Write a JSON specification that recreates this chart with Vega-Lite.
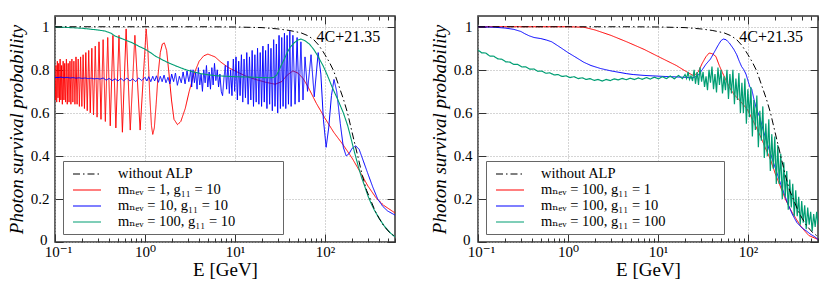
{
"$schema":"https://vega.github.io/schema/vega-lite/v6.json",
"padding":{"left":6,"top":14,"right":4,"bottom":4},
"spacing":32,
"config":{
 "font":"Times New Roman, Liberation Serif, DejaVu Serif, serif",
 "view":{"stroke":"#333","strokeWidth":1.5},
 "axis":{"labelFont":"Times New Roman, Liberation Serif, DejaVu Serif, serif","titleFont":"Times New Roman, Liberation Serif, DejaVu Serif, serif","labelFontSize":15,"titleFontSize":19,"titleFontWeight":"normal","labelColor":"#000","titleColor":"#000","domain":false,"tickColor":"#333","tickWidth":1,"gridColor":"#aaa","gridDash":[1,2],"gridWidth":1},
 "legend":{"orient":"bottom-left","offset":8,"title":null,"symbolType":"M-1,0H3","symbolSize":196,"symbolStrokeWidth":1.2,"labelFont":"Times New Roman, Liberation Serif, DejaVu Serif, serif","labelFontSize":14.5,"labelColor":"#000","labelLimit":300,"strokeColor":"#666","fillColor":"#fff","padding":5,"rowPadding":1,"symbolOffset":4,"labelOffset":30},
 "text":{"font":"Times New Roman, Liberation Serif, DejaVu Serif, serif"}
},
"resolve":{"scale":{"color":"independent","strokeDash":"independent"},"legend":{"color":"independent","strokeDash":"independent"}},
"datasets":{
"L":[
{"s":"r","E":0.1,"P":0.75},{"s":"r","E":0.1009,"P":0.66},{"s":"r","E":0.1026,"P":0.82},{"s":"r","E":0.1044,"P":0.65},{"s":"r","E":0.1062,"P":0.84},{"s":"r","E":0.108,"P":0.67},{"s":"r","E":0.11,"P":0.83},{"s":"r","E":0.112,"P":0.65},{"s":"r","E":0.114,"P":0.85},{"s":"r","E":0.1162,"P":0.66},{"s":"r","E":0.1184,"P":0.82},{"s":"r","E":0.1207,"P":0.64},{"s":"r","E":0.1232,"P":0.84},{"s":"r","E":0.1257,"P":0.66},{"s":"r","E":0.1283,"P":0.83},{"s":"r","E":0.131,"P":0.65},{"s":"r","E":0.1339,"P":0.85},{"s":"r","E":0.1368,"P":0.64},{"s":"r","E":0.14,"P":0.83},{"s":"r","E":0.1432,"P":0.65},{"s":"r","E":0.1466,"P":0.84},{"s":"r","E":0.1502,"P":0.64},{"s":"r","E":0.154,"P":0.85},{"s":"r","E":0.1579,"P":0.65},{"s":"r","E":0.1621,"P":0.84},{"s":"r","E":0.1665,"P":0.64},{"s":"r","E":0.1711,"P":0.86},{"s":"r","E":0.176,"P":0.64},{"s":"r","E":0.1812,"P":0.85},{"s":"r","E":0.1867,"P":0.63},{"s":"r","E":0.1925,"P":0.86},{"s":"r","E":0.1987,"P":0.63},{"s":"r","E":0.2053,"P":0.87},{"s":"r","E":0.2124,"P":0.62},{"s":"r","E":0.22,"P":0.88},{"s":"r","E":0.2282,"P":0.61},{"s":"r","E":0.237,"P":0.89},{"s":"r","E":0.2465,"P":0.6},{"s":"r","E":0.2567,"P":0.9},{"s":"r","E":0.2679,"P":0.59},{"s":"r","E":0.2801,"P":0.91},{"s":"r","E":0.2935,"P":0.58},{"s":"r","E":0.3082,"P":0.93},{"s":"r","E":0.3244,"P":0.57},{"s":"r","E":0.3425,"P":0.94},{"s":"r","E":0.3626,"P":0.56},{"s":"r","E":0.3854,"P":0.95},{"s":"r","E":0.4111,"P":0.54},{"s":"r","E":0.4405,"P":0.96},{"s":"r","E":0.4745,"P":0.53},{"s":"r","E":0.5141,"P":0.96},{"s":"r","E":0.561,"P":0.51},{"s":"r","E":0.6173,"P":0.99},{"s":"r","E":0.6861,"P":0.52},{"s":"r","E":0.7722,"P":0.96},{"s":"r","E":0.883,"P":0.52},{"s":"r","E":1.031,"P":0.99},{"s":"r","E":1.08,"P":0.88},{"s":"r","E":1.13,"P":0.68},{"s":"r","E":1.18,"P":0.54},{"s":"r","E":1.22,"P":0.5},{"s":"r","E":1.27,"P":0.53},{"s":"r","E":1.33,"P":0.64},{"s":"r","E":1.4,"P":0.78},{"s":"r","E":1.48,"P":0.88},{"s":"r","E":1.56,"P":0.92},{"s":"r","E":1.64,"P":0.925},{"s":"r","E":1.74,"P":0.89},{"s":"r","E":1.85,"P":0.78},{"s":"r","E":1.97,"P":0.66},{"s":"r","E":2.1,"P":0.57},{"s":"r","E":2.3,"P":0.545},{"s":"r","E":2.5,"P":0.56},{"s":"r","E":2.8,"P":0.62},{"s":"r","E":3.1,"P":0.7},{"s":"r","E":3.5,"P":0.78},{"s":"r","E":4,"P":0.84},{"s":"r","E":4.5,"P":0.865},{"s":"r","E":5,"P":0.873},{"s":"r","E":6,"P":0.86},{"s":"r","E":7,"P":0.835},{"s":"r","E":8.5,"P":0.81},{"s":"r","E":10,"P":0.795},{"s":"r","E":13,"P":0.772},{"s":"r","E":17,"P":0.755},{"s":"r","E":22,"P":0.742},{"s":"r","E":28,"P":0.733},{"s":"r","E":33,"P":0.745},{"s":"r","E":38,"P":0.775},{"s":"r","E":44,"P":0.795},{"s":"r","E":50,"P":0.785},{"s":"r","E":57,"P":0.76},{"s":"r","E":65,"P":0.72},{"s":"r","E":80,"P":0.645},{"s":"r","E":100,"P":0.575},{"s":"r","E":125,"P":0.51},{"s":"r","E":160,"P":0.45},{"s":"r","E":200,"P":0.39},{"s":"r","E":250,"P":0.32},{"s":"r","E":300,"P":0.26},{"s":"r","E":370,"P":0.205},{"s":"r","E":450,"P":0.17},{"s":"r","E":600,"P":0.135},
{"s":"b","E":0.1,"P":0.765},{"s":"b","E":0.108,"P":0.764},{"s":"b","E":0.117,"P":0.766},{"s":"b","E":0.126,"P":0.763},{"s":"b","E":0.136,"P":0.765},{"s":"b","E":0.147,"P":0.762},{"s":"b","E":0.159,"P":0.764},{"s":"b","E":0.171,"P":0.761},{"s":"b","E":0.185,"P":0.763},{"s":"b","E":0.2,"P":0.76},{"s":"b","E":0.216,"P":0.762},{"s":"b","E":0.233,"P":0.759},{"s":"b","E":0.252,"P":0.761},{"s":"b","E":0.272,"P":0.758},{"s":"b","E":0.294,"P":0.76},{"s":"b","E":0.317,"P":0.757},{"s":"b","E":0.343,"P":0.762},{"s":"b","E":0.37,"P":0.752},{"s":"b","E":0.4,"P":0.76},{"s":"b","E":0.432,"P":0.75},{"s":"b","E":0.466,"P":0.758},{"s":"b","E":0.5,"P":0.748},{"s":"b","E":0.54,"P":0.76},{"s":"b","E":0.58,"P":0.749},{"s":"b","E":0.63,"P":0.762},{"s":"b","E":0.68,"P":0.748},{"s":"b","E":0.73,"P":0.758},{"s":"b","E":0.79,"P":0.745},{"s":"b","E":0.85,"P":0.762},{"s":"b","E":0.92,"P":0.75},{"s":"b","E":1,"P":0.765},{"s":"b","E":1.05,"P":0.748},{"s":"b","E":1.1,"P":0.768},{"s":"b","E":1.16,"P":0.745},{"s":"b","E":1.22,"P":0.77},{"s":"b","E":1.28,"P":0.748},{"s":"b","E":1.34,"P":0.772},{"s":"b","E":1.41,"P":0.742},{"s":"b","E":1.48,"P":0.77},{"s":"b","E":1.55,"P":0.745},{"s":"b","E":1.63,"P":0.775},{"s":"b","E":1.71,"P":0.74},{"s":"b","E":1.8,"P":0.765},{"s":"b","E":1.89,"P":0.735},{"s":"b","E":1.98,"P":0.78},{"s":"b","E":2.08,"P":0.745},{"s":"b","E":2.18,"P":0.785},{"s":"b","E":2.29,"P":0.728},{"s":"b","E":2.41,"P":0.77},{"s":"b","E":2.53,"P":0.74},{"s":"b","E":2.65,"P":0.79},{"s":"b","E":2.79,"P":0.735},{"s":"b","E":2.93,"P":0.795},{"s":"b","E":3.07,"P":0.745},{"s":"b","E":3.23,"P":0.8},
{"s":"b","E":3.3,"P":0.72},{"s":"b","E":3.42,"P":0.8},{"s":"b","E":3.54,"P":0.74},{"s":"b","E":3.66,"P":0.79},{"s":"b","E":3.79,"P":0.71},{"s":"b","E":3.92,"P":0.81},{"s":"b","E":4.06,"P":0.73},{"s":"b","E":4.2,"P":0.78},{"s":"b","E":4.35,"P":0.7},{"s":"b","E":4.5,"P":0.8},{"s":"b","E":4.66,"P":0.74},{"s":"b","E":4.82,"P":0.82},{"s":"b","E":4.99,"P":0.72},{"s":"b","E":5.16,"P":0.79},{"s":"b","E":5.34,"P":0.71},{"s":"b","E":5.53,"P":0.81},{"s":"b","E":5.72,"P":0.73},{"s":"b","E":5.92,"P":0.83},{"s":"b","E":6.13,"P":0.75},{"s":"b","E":6.35,"P":0.8},{"s":"b","E":6.57,"P":0.72},{"s":"b","E":6.8,"P":0.78},{"s":"b","E":7.04,"P":0.7},{"s":"b","E":7.28,"P":0.68},{"s":"b","E":7.54,"P":0.76},{"s":"b","E":7.8,"P":0.82},{"s":"b","E":8.07,"P":0.71},{"s":"b","E":8.36,"P":0.84},{"s":"b","E":8.65,"P":0.69},{"s":"b","E":8.95,"P":0.8},{"s":"b","E":9.26,"P":0.68},{"s":"b","E":9.59,"P":0.85},{"s":"b","E":9.92,"P":0.7},{"s":"b","E":10.27,"P":0.86},{"s":"b","E":10.63,"P":0.66},{"s":"b","E":11,"P":0.84},{"s":"b","E":11.39,"P":0.68},{"s":"b","E":11.79,"P":0.87},{"s":"b","E":12.2,"P":0.65},{"s":"b","E":12.62,"P":0.85},{"s":"b","E":13.07,"P":0.67},{"s":"b","E":13.52,"P":0.88},{"s":"b","E":14,"P":0.64},{"s":"b","E":14.49,"P":0.86},{"s":"b","E":15,"P":0.66},{"s":"b","E":15.52,"P":0.89},{"s":"b","E":16.06,"P":0.63},{"s":"b","E":16.63,"P":0.87},{"s":"b","E":17.21,"P":0.65},{"s":"b","E":17.81,"P":0.9},{"s":"b","E":18.43,"P":0.64},{"s":"b","E":19.08,"P":0.88},{"s":"b","E":19.75,"P":0.63},{"s":"b","E":20.44,"P":0.91},{"s":"b","E":21.15,"P":0.65},{"s":"b","E":21.89,"P":0.89},{"s":"b","E":22.66,"P":0.62},{"s":"b","E":23.45,"P":0.92},{"s":"b","E":24.27,"P":0.64},{"s":"b","E":25.12,"P":0.9},{"s":"b","E":26,"P":0.61},{"s":"b","E":26.91,"P":0.94},{"s":"b","E":27.85,"P":0.63},{"s":"b","E":28.83,"P":0.92},{"s":"b","E":29.84,"P":0.6},{"s":"b","E":30.88,"P":0.96},{"s":"b","E":31.96,"P":0.62},{"s":"b","E":33.08,"P":0.95},{"s":"b","E":34.24,"P":0.63},{"s":"b","E":35.44,"P":0.97},{"s":"b","E":36.68,"P":0.62},{"s":"b","E":37.96,"P":0.96},{"s":"b","E":39.29,"P":0.64},{"s":"b","E":40.67,"P":0.98},{"s":"b","E":42.09,"P":0.63},{"s":"b","E":44,"P":0.96},{"s":"b","E":46.5,"P":0.64},{"s":"b","E":49,"P":0.95},{"s":"b","E":51.5,"P":0.65},{"s":"b","E":54,"P":0.93},{"s":"b","E":57,"P":0.66},{"s":"b","E":60,"P":0.86},{"s":"b","E":64,"P":0.7},{"s":"b","E":70,"P":0.87},{"s":"b","E":76,"P":0.675},{"s":"b","E":84,"P":0.88},{"s":"b","E":90,"P":0.78},{"s":"b","E":96,"P":0.57},{"s":"b","E":103,"P":0.44},{"s":"b","E":110,"P":0.53},{"s":"b","E":118,"P":0.68},{"s":"b","E":126,"P":0.755},{"s":"b","E":135,"P":0.7},{"s":"b","E":148,"P":0.55},{"s":"b","E":160,"P":0.44},{"s":"b","E":172,"P":0.4},{"s":"b","E":185,"P":0.41},{"s":"b","E":200,"P":0.435},{"s":"b","E":220,"P":0.447},{"s":"b","E":240,"P":0.43},{"s":"b","E":265,"P":0.38},{"s":"b","E":297,"P":0.322},{"s":"b","E":340,"P":0.255},{"s":"b","E":385,"P":0.2},{"s":"b","E":440,"P":0.165},{"s":"b","E":497,"P":0.144},{"s":"b","E":600,"P":0.125},
{"s":"g","E":0.1,"P":1.0},{"s":"g","E":0.2,"P":0.993},{"s":"g","E":0.3,"P":0.985},{"s":"g","E":0.36,"P":0.98},{"s":"g","E":0.42,"P":0.97},{"s":"g","E":0.46,"P":0.958},{"s":"g","E":0.55,"P":0.945},{"s":"g","E":0.71,"P":0.927},{"s":"g","E":0.85,"P":0.91},{"s":"g","E":1,"P":0.896},{"s":"g","E":1.17,"P":0.878},{"s":"g","E":1.29,"P":0.865},{"s":"g","E":1.5,"P":0.85},{"s":"g","E":1.79,"P":0.834},{"s":"g","E":2.2,"P":0.818},{"s":"g","E":2.73,"P":0.803},{"s":"g","E":3.3,"P":0.792},{"s":"g","E":4.2,"P":0.782},{"s":"g","E":5.2,"P":0.776},{"s":"g","E":6.4,"P":0.772},{"s":"g","E":8,"P":0.77},{"s":"g","E":10,"P":0.768},{"s":"g","E":15,"P":0.766},{"s":"g","E":20,"P":0.764},{"s":"g","E":25,"P":0.763},{"s":"g","E":27,"P":0.765},{"s":"g","E":29,"P":0.775},{"s":"g","E":31,"P":0.8},{"s":"g","E":33,"P":0.825},{"s":"g","E":35.4,"P":0.85},{"s":"g","E":38,"P":0.88},{"s":"g","E":41,"P":0.905},{"s":"g","E":46,"P":0.927},{"s":"g","E":50,"P":0.938},{"s":"g","E":54,"P":0.943},{"s":"g","E":60,"P":0.935},{"s":"g","E":67,"P":0.92},{"s":"g","E":75,"P":0.895},{"s":"g","E":83,"P":0.865},{"s":"g","E":95,"P":0.82},{"s":"g","E":107,"P":0.772},{"s":"g","E":120,"P":0.72},{"s":"g","E":138,"P":0.664},{"s":"g","E":160,"P":0.6},{"s":"g","E":179,"P":0.54},{"s":"g","E":195,"P":0.48},{"s":"g","E":212,"P":0.42},{"s":"g","E":235,"P":0.35},{"s":"g","E":255,"P":0.3},{"s":"g","E":276,"P":0.26},{"s":"g","E":300,"P":0.215},{"s":"g","E":325,"P":0.18},{"s":"g","E":350,"P":0.152},{"s":"g","E":375,"P":0.13},{"s":"g","E":400,"P":0.11},{"s":"g","E":430,"P":0.09},{"s":"g","E":457,"P":0.074},{"s":"g","E":500,"P":0.055},{"s":"g","E":540,"P":0.04},{"s":"g","E":584,"P":0.028},{"s":"g","E":600,"P":0.025},
{"s":"k","E":0.1,"P":1},{"s":"k","E":5,"P":1},{"s":"k","E":10,"P":0.999},{"s":"k","E":20,"P":0.996},{"s":"k","E":30,"P":0.99},{"s":"k","E":40,"P":0.983},{"s":"k","E":54,"P":0.972},{"s":"k","E":65,"P":0.958},{"s":"k","E":75,"P":0.94},{"s":"k","E":85,"P":0.915},{"s":"k","E":95,"P":0.885},{"s":"k","E":100,"P":0.87},{"s":"k","E":112,"P":0.835},{"s":"k","E":125,"P":0.795},{"s":"k","E":140,"P":0.735},{"s":"k","E":160,"P":0.665},{"s":"k","E":178,"P":0.6},{"s":"k","E":200,"P":0.51},{"s":"k","E":228,"P":0.41},{"s":"k","E":260,"P":0.31},{"s":"k","E":290,"P":0.24},{"s":"k","E":322,"P":0.195},{"s":"k","E":360,"P":0.145},{"s":"k","E":400,"P":0.11},{"s":"k","E":450,"P":0.075},{"s":"k","E":520,"P":0.045},{"s":"k","E":600,"P":0.025}
],
"R":[
{"s":"r","E":0.1,"P":1},{"s":"r","E":1,"P":1},{"s":"r","E":1.5,"P":0.998},{"s":"r","E":2,"P":0.985},{"s":"r","E":3,"P":0.96},{"s":"r","E":4.5,"P":0.93},{"s":"r","E":7,"P":0.895},{"s":"r","E":10.6,"P":0.857},{"s":"r","E":16,"P":0.82},{"s":"r","E":20,"P":0.795},{"s":"r","E":25,"P":0.772},{"s":"r","E":28,"P":0.79},{"s":"r","E":31,"P":0.83},{"s":"r","E":34,"P":0.86},{"s":"r","E":37,"P":0.878},{"s":"r","E":40,"P":0.875},{"s":"r","E":44,"P":0.862},{"s":"r","E":48,"P":0.82},{"s":"r","E":52,"P":0.787},{"s":"r","E":58,"P":0.745},{"s":"r","E":64,"P":0.71},{"s":"r","E":70,"P":0.685},{"s":"r","E":80,"P":0.66},{"s":"r","E":98,"P":0.617},{"s":"r","E":115,"P":0.56},{"s":"r","E":137,"P":0.493},{"s":"r","E":155,"P":0.44},{"s":"r","E":177,"P":0.385},{"s":"r","E":200,"P":0.32},{"s":"r","E":228,"P":0.26},{"s":"r","E":260,"P":0.2},{"s":"r","E":295,"P":0.152},{"s":"r","E":340,"P":0.11},{"s":"r","E":385,"P":0.074},{"s":"r","E":430,"P":0.05},{"s":"r","E":475,"P":0.03},{"s":"r","E":600,"P":0.012},
{"s":"b","E":0.1,"P":1},{"s":"b","E":0.15,"P":0.998},{"s":"b","E":0.2,"P":0.994},{"s":"b","E":0.25,"P":0.988},{"s":"b","E":0.3,"P":0.978},{"s":"b","E":0.33,"P":0.968},{"s":"b","E":0.37,"P":0.958},{"s":"b","E":0.42,"P":0.95},{"s":"b","E":0.5,"P":0.945},{"s":"b","E":0.58,"P":0.938},{"s":"b","E":0.66,"P":0.93},{"s":"b","E":0.75,"P":0.915},{"s":"b","E":0.85,"P":0.9},{"s":"b","E":1,"P":0.88},{"s":"b","E":1.2,"P":0.86},{"s":"b","E":1.5,"P":0.835},{"s":"b","E":1.8,"P":0.82},{"s":"b","E":2.3,"P":0.806},{"s":"b","E":3,"P":0.795},{"s":"b","E":3.5,"P":0.79},{"s":"b","E":4.5,"P":0.782},{"s":"b","E":5.3,"P":0.778},{"s":"b","E":7,"P":0.774},{"s":"b","E":8.6,"P":0.772},{"s":"b","E":12,"P":0.769},{"s":"b","E":16,"P":0.767},{"s":"b","E":20,"P":0.765},{"s":"b","E":23,"P":0.763},{"s":"b","E":25,"P":0.764},{"s":"b","E":28,"P":0.775},{"s":"b","E":31,"P":0.8},{"s":"b","E":34,"P":0.825},{"s":"b","E":38.3,"P":0.85},{"s":"b","E":42,"P":0.88},{"s":"b","E":46,"P":0.91},{"s":"b","E":50,"P":0.935},{"s":"b","E":53.2,"P":0.943},{"s":"b","E":57,"P":0.94},{"s":"b","E":62,"P":0.925},{"s":"b","E":69.4,"P":0.896},{"s":"b","E":75,"P":0.87},{"s":"b","E":80,"P":0.84},{"s":"b","E":85,"P":0.815},{"s":"b","E":90,"P":0.8},{"s":"b","E":95,"P":0.78},{"s":"b","E":100,"P":0.75},{"s":"b","E":105,"P":0.72},{"s":"b","E":110,"P":0.71},{"s":"b","E":117,"P":0.66},{"s":"b","E":124,"P":0.62},{"s":"b","E":135,"P":0.58},{"s":"b","E":150,"P":0.51},{"s":"b","E":163,"P":0.46},{"s":"b","E":185,"P":0.39},{"s":"b","E":210,"P":0.32},{"s":"b","E":240,"P":0.25},{"s":"b","E":276,"P":0.18},{"s":"b","E":310,"P":0.13},{"s":"b","E":350,"P":0.09},{"s":"b","E":400,"P":0.065},{"s":"b","E":450,"P":0.05},{"s":"b","E":500,"P":0.035},{"s":"b","E":550,"P":0.025},{"s":"b","E":600,"P":0.012},
{"s":"g","E":0.1,"P":0.892},{"s":"g","E":0.11,"P":0.879},{"s":"g","E":0.122,"P":0.878},{"s":"g","E":0.135,"P":0.864},{"s":"g","E":0.15,"P":0.863},{"s":"g","E":0.166,"P":0.851},{"s":"g","E":0.184,"P":0.849},{"s":"g","E":0.204,"P":0.837},{"s":"g","E":0.226,"P":0.836},{"s":"g","E":0.25,"P":0.825},{"s":"g","E":0.277,"P":0.825},{"s":"g","E":0.307,"P":0.813},{"s":"g","E":0.34,"P":0.814},{"s":"g","E":0.377,"P":0.803},{"s":"g","E":0.418,"P":0.804},{"s":"g","E":0.463,"P":0.793},{"s":"g","E":0.513,"P":0.794},{"s":"g","E":0.569,"P":0.784},{"s":"g","E":0.63,"P":0.786},{"s":"g","E":0.7,"P":0.776},{"s":"g","E":0.775,"P":0.778},{"s":"g","E":0.86,"P":0.769},{"s":"g","E":0.95,"P":0.772},{"s":"g","E":1.05,"P":0.764},{"s":"g","E":1.17,"P":0.768},{"s":"g","E":1.3,"P":0.759},{"s":"g","E":1.44,"P":0.763},{"s":"g","E":1.59,"P":0.755},{"s":"g","E":1.76,"P":0.759},{"s":"g","E":1.95,"P":0.751},{"s":"g","E":2.16,"P":0.755},{"s":"g","E":2.4,"P":0.748},{"s":"g","E":2.66,"P":0.755},{"s":"g","E":2.95,"P":0.75},{"s":"g","E":3.27,"P":0.758},{"s":"g","E":3.62,"P":0.753},{"s":"g","E":4,"P":0.76},{"s":"g","E":4.45,"P":0.754},{"s":"g","E":4.93,"P":0.761},{"s":"g","E":5.46,"P":0.755},{"s":"g","E":6.05,"P":0.762},{"s":"g","E":6.7,"P":0.756},{"s":"g","E":7.43,"P":0.764},{"s":"g","E":8.23,"P":0.757},{"s":"g","E":9.12,"P":0.766},{"s":"g","E":10.1,"P":0.758},{"s":"g","E":11.2,"P":0.768},{"s":"g","E":12.4,"P":0.759},{"s":"g","E":13.7,"P":0.771},{"s":"g","E":15.2,"P":0.758},{"s":"g","E":16.9,"P":0.774},{"s":"g","E":18.7,"P":0.759},
{"s":"g","E":20,"P":0.778},{"s":"g","E":20.8,"P":0.76},{"s":"g","E":21.6,"P":0.79},{"s":"g","E":22.4,"P":0.755},{"s":"g","E":23.3,"P":0.772},{"s":"g","E":24.2,"P":0.748},{"s":"g","E":25.2,"P":0.8},{"s":"g","E":26.1,"P":0.735},{"s":"g","E":27.2,"P":0.79},{"s":"g","E":28.2,"P":0.73},{"s":"g","E":29.3,"P":0.812},{"s":"g","E":30.5,"P":0.745},{"s":"g","E":31.7,"P":0.79},{"s":"g","E":32.9,"P":0.72},{"s":"g","E":34.2,"P":0.77},{"s":"g","E":35.5,"P":0.705},{"s":"g","E":36.9,"P":0.8},{"s":"g","E":38.3,"P":0.74},{"s":"g","E":39.8,"P":0.815},{"s":"g","E":41.4,"P":0.71},{"s":"g","E":43,"P":0.78},{"s":"g","E":44.7,"P":0.695},{"s":"g","E":46.4,"P":0.81},{"s":"g","E":48.2,"P":0.73},{"s":"g","E":50.1,"P":0.8},{"s":"g","E":52.1,"P":0.69},{"s":"g","E":54.1,"P":0.77},{"s":"g","E":56.2,"P":0.705},{"s":"g","E":58.4,"P":0.8},{"s":"g","E":60.7,"P":0.665},{"s":"g","E":63,"P":0.78},{"s":"g","E":65.5,"P":0.69},{"s":"g","E":68,"P":0.8},{"s":"g","E":70.7,"P":0.64},{"s":"g","E":73.4,"P":0.76},{"s":"g","E":76.3,"P":0.66},{"s":"g","E":79.3,"P":0.785},{"s":"g","E":82.4,"P":0.6},{"s":"g","E":85.6,"P":0.74},{"s":"g","E":88.9,"P":0.6},{"s":"g","E":92.4,"P":0.76},{"s":"g","E":96,"P":0.55},{"s":"g","E":99.7,"P":0.71},{"s":"g","E":103.6,"P":0.58},{"s":"g","E":107.7,"P":0.72},{"s":"g","E":111.9,"P":0.49},{"s":"g","E":116.2,"P":0.66},{"s":"g","E":120.8,"P":0.52},{"s":"g","E":125.5,"P":0.68},{"s":"g","E":130.4,"P":0.44},{"s":"g","E":135.5,"P":0.61},{"s":"g","E":140.7,"P":0.47},{"s":"g","E":146.2,"P":0.63},{"s":"g","E":151.9,"P":0.39},{"s":"g","E":157.9,"P":0.55},{"s":"g","E":164,"P":0.4},{"s":"g","E":170.4,"P":0.57},{"s":"g","E":177.1,"P":0.33},{"s":"g","E":184,"P":0.5},{"s":"g","E":191.2,"P":0.34},{"s":"g","E":198.6,"P":0.49},{"s":"g","E":206.4,"P":0.27},{"s":"g","E":214.4,"P":0.45},{"s":"g","E":222.8,"P":0.27},{"s":"g","E":231.5,"P":0.41},{"s":"g","E":240.5,"P":0.2},{"s":"g","E":249.9,"P":0.37},{"s":"g","E":259.6,"P":0.21},{"s":"g","E":269.8,"P":0.33},{"s":"g","E":280.3,"P":0.15},{"s":"g","E":291.2,"P":0.29},{"s":"g","E":302.6,"P":0.16},{"s":"g","E":314.4,"P":0.27},{"s":"g","E":326.7,"P":0.12},{"s":"g","E":339.4,"P":0.24},{"s":"g","E":352.6,"P":0.12},{"s":"g","E":366.4,"P":0.21},{"s":"g","E":380.7,"P":0.08},{"s":"g","E":395.5,"P":0.19},{"s":"g","E":411,"P":0.09},{"s":"g","E":427,"P":0.17},{"s":"g","E":443.6,"P":0.06},{"s":"g","E":460.9,"P":0.16},{"s":"g","E":478.9,"P":0.08},{"s":"g","E":497.6,"P":0.14},{"s":"g","E":517,"P":0.05},{"s":"g","E":537.2,"P":0.13},{"s":"g","E":558.1,"P":0.07},{"s":"g","E":579.9,"P":0.14},{"s":"g","E":600,"P":0.08},
{"s":"k","E":0.1,"P":1},{"s":"k","E":5,"P":1},{"s":"k","E":10,"P":0.999},{"s":"k","E":20,"P":0.996},{"s":"k","E":30,"P":0.99},{"s":"k","E":40,"P":0.983},{"s":"k","E":54,"P":0.972},{"s":"k","E":65,"P":0.958},{"s":"k","E":75,"P":0.94},{"s":"k","E":85,"P":0.915},{"s":"k","E":95,"P":0.885},{"s":"k","E":100,"P":0.87},{"s":"k","E":112,"P":0.835},{"s":"k","E":125,"P":0.795},{"s":"k","E":140,"P":0.735},{"s":"k","E":160,"P":0.665},{"s":"k","E":178,"P":0.6},{"s":"k","E":200,"P":0.51},{"s":"k","E":228,"P":0.41},{"s":"k","E":260,"P":0.31},{"s":"k","E":290,"P":0.24},{"s":"k","E":322,"P":0.195},{"s":"k","E":360,"P":0.145},{"s":"k","E":400,"P":0.11},{"s":"k","E":450,"P":0.075},{"s":"k","E":520,"P":0.045},{"s":"k","E":600,"P":0.025}
]},
"hconcat":[
{"width":340,"height":226,
 "resolve":{"axis":{"x":"independent","y":"independent"}},
 "layer":[
  {"data":{"name":"L"},
   "encoding":{
    "x":{"field":"E","type":"quantitative","title":"E [GeV]","scale":{"type":"log","domain":[0.1,600],"nice":false},
     "axis":{"orient":"bottom","values":[0.1,0.2,0.3,0.4,0.5,0.6,0.7,0.8,0.9,1,2,3,4,5,6,7,8,9,10,20,30,40,50,60,70,80,90,100,200,300,400,500,600],"labelExpr":"datum.value==0.1?'10⁻¹':datum.value==1?'10⁰':datum.value==10?'10¹':datum.value==100?'10²':''","labelOverlap":false,"labelFlush":false,"labelOffset":{"condition":{"test":"datum.value==0.1","value":3},"value":0},"grid":true,"gridOpacity":{"condition":{"test":"datum.value==0.1||datum.value==1||datum.value==10||datum.value==100","value":1},"value":0},"tickSize":{"condition":{"test":"datum.value==0.1||datum.value==1||datum.value==10||datum.value==100","value":-8},"value":-4},"labelPadding":10,"titlePadding":-3}},
    "y":{"field":"P","type":"quantitative","title":"Photon survival probability","scale":{"domain":[0,1.05],"nice":false,"zero":false},
     "axis":{"orient":"left","values":[0,0.2,0.4,0.6,0.8,1],"format":"~g","labelFlush":false,"grid":true,"tickSize":-8,"labelPadding":{"condition":{"test":"datum.value==0","value":16},"value":14},"titlePadding":4,"titleFontStyle":"italic","labelOffset":{"condition":{"test":"datum.value==0","value":-3},"value":0}}},
    "color":{"field":"s","type":"nominal","scale":{"domain":["k","r","b","g"],"range":["#000000","#ff0000","#0000ff","#009e73"]},
     "legend":{"labelExpr":"datum.value=='k'?'without ALP':datum.value=='r'?'mₙₑᵥ = 1, g₁₁ = 10':datum.value=='b'?'mₙₑᵥ = 10, g₁₁ = 10':'mₙₑᵥ = 100, g₁₁ = 10\u2800\u2800\u2800\u2800'"}},
    "strokeDash":{"field":"s","type":"nominal","scale":{"domain":["k","r","b","g"],"range":[[7,3,1.5,3],[1,0],[1,0],[1,0]]},
     "legend":{"labelExpr":"datum.value=='k'?'without ALP':datum.value=='r'?'mₙₑᵥ = 1, g₁₁ = 10':datum.value=='b'?'mₙₑᵥ = 10, g₁₁ = 10':'mₙₑᵥ = 100, g₁₁ = 10\u2800\u2800\u2800\u2800'"}}
   },
   "layer":[
    {"transform":[{"filter":"datum.s==='r'"}],"mark":{"type":"line","strokeWidth":1,"clip":true}},
    {"transform":[{"filter":"datum.s==='b'"}],"mark":{"type":"line","strokeWidth":1,"clip":true}},
    {"transform":[{"filter":"datum.s==='g'"}],"mark":{"type":"line","strokeWidth":1.1,"clip":true}},
    {"transform":[{"filter":"datum.s==='k'"}],"mark":{"type":"line","strokeWidth":1,"clip":true}}
   ]
  },
  {"data":{"values":[{}]},
   "mark":{"type":"text","fontSize":16,"font":"Times New Roman, Liberation Serif, DejaVu Serif, serif","color":"#000"},
   "encoding":{
    "x":{"datum":182,"type":"quantitative","axis":{"orient":"top","values":[0.1,0.2,0.3,0.4,0.5,0.6,0.7,0.8,0.9,1,2,3,4,5,6,7,8,9,10,20,30,40,50,60,70,80,90,100,200,300,400,500,600],"labels":false,"grid":false,"title":null,"tickSize":{"condition":{"test":"datum.value==0.1||datum.value==1||datum.value==10||datum.value==100","value":-8},"value":-4}}},
    "y":{"datum":0.953,"type":"quantitative","axis":{"orient":"right","values":[0,0.2,0.4,0.6,0.8,1],"labels":false,"grid":false,"title":null,"tickSize":-8}},
    "text":{"value":"4C+21.35"}
   }
  }
 ]
},
{"width":340,"height":226,
 "resolve":{"axis":{"x":"independent","y":"independent"}},
 "layer":[
  {"data":{"name":"R"},
   "encoding":{
    "x":{"field":"E","type":"quantitative","title":"E [GeV]","scale":{"type":"log","domain":[0.1,600],"nice":false},
     "axis":{"orient":"bottom","values":[0.1,0.2,0.3,0.4,0.5,0.6,0.7,0.8,0.9,1,2,3,4,5,6,7,8,9,10,20,30,40,50,60,70,80,90,100,200,300,400,500,600],"labelExpr":"datum.value==0.1?'10⁻¹':datum.value==1?'10⁰':datum.value==10?'10¹':datum.value==100?'10²':''","labelOverlap":false,"labelFlush":false,"labelOffset":{"condition":{"test":"datum.value==0.1","value":3},"value":0},"grid":true,"gridOpacity":{"condition":{"test":"datum.value==0.1||datum.value==1||datum.value==10||datum.value==100","value":1},"value":0},"tickSize":{"condition":{"test":"datum.value==0.1||datum.value==1||datum.value==10||datum.value==100","value":-8},"value":-4},"labelPadding":10,"titlePadding":-3}},
    "y":{"field":"P","type":"quantitative","title":"Photon survival probability","scale":{"domain":[0,1.05],"nice":false,"zero":false},
     "axis":{"orient":"left","values":[0,0.2,0.4,0.6,0.8,1],"format":"~g","labelFlush":false,"grid":true,"tickSize":-8,"labelPadding":{"condition":{"test":"datum.value==0","value":16},"value":14},"titlePadding":4,"titleFontStyle":"italic","labelOffset":{"condition":{"test":"datum.value==0","value":-3},"value":0}}},
    "color":{"field":"s","type":"nominal","scale":{"domain":["k","r","b","g"],"range":["#000000","#ff0000","#0000ff","#009e73"]},
     "legend":{"labelExpr":"datum.value=='k'?'without ALP':datum.value=='r'?'mₙₑᵥ = 100, g₁₁ = 1':datum.value=='b'?'mₙₑᵥ = 100, g₁₁ = 10':'mₙₑᵥ = 100, g₁₁ = 100\u2800\u2800\u2800\u2800\u2800'"}},
    "strokeDash":{"field":"s","type":"nominal","scale":{"domain":["k","r","b","g"],"range":[[7,3,1.5,3],[1,0],[1,0],[1,0]]},
     "legend":{"labelExpr":"datum.value=='k'?'without ALP':datum.value=='r'?'mₙₑᵥ = 100, g₁₁ = 1':datum.value=='b'?'mₙₑᵥ = 100, g₁₁ = 10':'mₙₑᵥ = 100, g₁₁ = 100\u2800\u2800\u2800\u2800\u2800'"}}
   },
   "layer":[
    {"transform":[{"filter":"datum.s==='r'"}],"mark":{"type":"line","strokeWidth":1,"clip":true}},
    {"transform":[{"filter":"datum.s==='b'"}],"mark":{"type":"line","strokeWidth":1,"clip":true}},
    {"transform":[{"filter":"datum.s==='g'"}],"mark":{"type":"line","strokeWidth":1.2,"clip":true}},
    {"transform":[{"filter":"datum.s==='k'"}],"mark":{"type":"line","strokeWidth":1,"clip":true}}
   ]
  },
  {"data":{"values":[{}]},
   "mark":{"type":"text","fontSize":16,"font":"Times New Roman, Liberation Serif, DejaVu Serif, serif","color":"#000"},
   "encoding":{
    "x":{"datum":181,"type":"quantitative","axis":{"orient":"top","values":[0.1,0.2,0.3,0.4,0.5,0.6,0.7,0.8,0.9,1,2,3,4,5,6,7,8,9,10,20,30,40,50,60,70,80,90,100,200,300,400,500,600],"labels":false,"grid":false,"title":null,"tickSize":{"condition":{"test":"datum.value==0.1||datum.value==1||datum.value==10||datum.value==100","value":-8},"value":-4}}},
    "y":{"datum":0.953,"type":"quantitative","axis":{"orient":"right","values":[0,0.2,0.4,0.6,0.8,1],"labels":false,"grid":false,"title":null,"tickSize":-8}},
    "text":{"value":"4C+21.35"}
   }
  }
 ]
}
]
}
